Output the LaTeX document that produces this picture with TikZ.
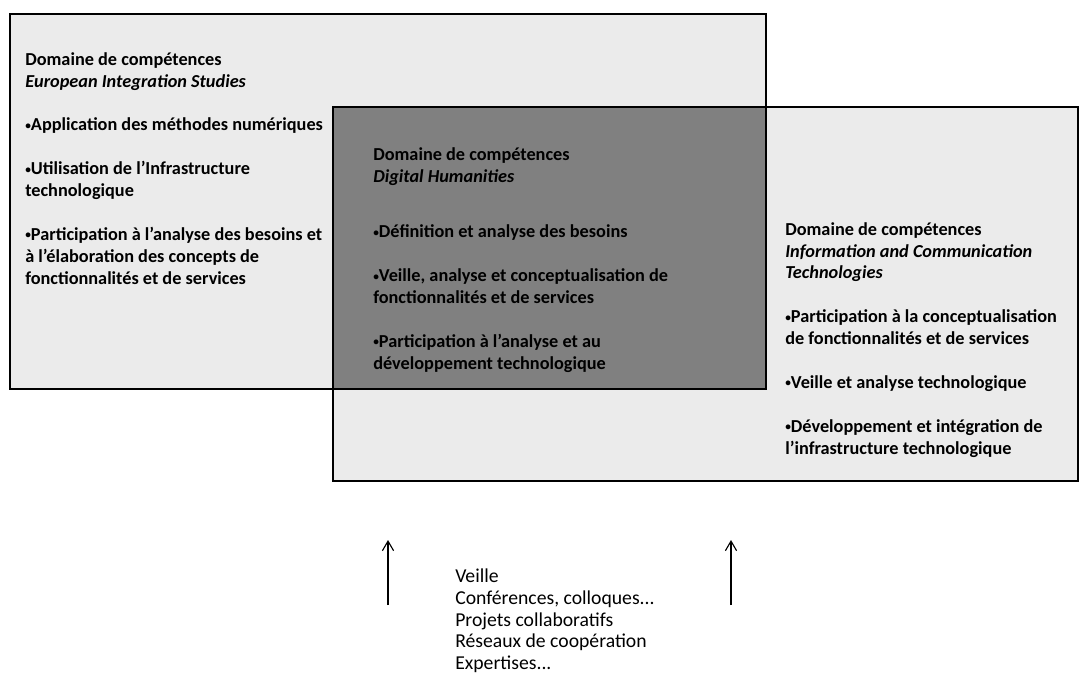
\documentclass[tikz,border=0pt]{standalone}
\usepackage{fontspec}
\setmainfont{Carlito}
\usetikzlibrary{arrows.meta}

\newcommand{\puce}{\raisebox{0.1em}{\scalebox{0.62}{•}}}

\begin{document}
\begin{tikzpicture}[x=0.25mm, y=-0.25mm,
    domainbox/.style={anchor=north west, inner sep=0pt, align=left,
        font=\bfseries\fontsize{13}{15.6}\selectfont},
    moyenbox/.style={anchor=north west, inner sep=0pt, align=left,
        font=\fontsize{14}{15.4}\selectfont},
    framebox/.style={line width=1.4pt}]

\useasboundingbox (0,0) rectangle (1080,679);

% the two domains and their overlap
\fill[black!8] (10,14) rectangle (766,389);
\fill[black!8] (333,107) rectangle (1078,481);
\fill[black!50] (333,107) rectangle (766,389);
\draw[framebox] (10,14) rectangle (766,389);
\draw[framebox] (333,107) rectangle (1078,481);

\node[domainbox] (eis) at (25,52) {Domaine de compétences\\
    \textit{European Integration Studies}\\[5.5mm]
    \puce Application des méthodes numériques\\[5.5mm]
    \puce Utilisation de l’Infrastructure\\ technologique\\[5.5mm]
    \puce Participation à l’analyse  des besoins et\\
    à l’élaboration des concepts de\\
    fonctionnalités et de services};

\node[domainbox] (dh) at (373,147) {Domaine de compétences\\
    \textit{Digital Humanities}\\[8.5mm]
    \puce Définition et analyse des besoins\\[5.5mm]
    \puce Veille, analyse et conceptualisation de\\
    fonctionnalités et de services\\[5.5mm]
    \puce Participation à l’analyse et au\\
    développement technologique};

\node[domainbox] (ict) at (785,222) {Domaine de compétences\\
    \textit{Information and Communication}\\
    \textit{Technologies}\\[5.5mm]
    \puce Participation à la conceptualisation\\
    de fonctionnalités et de services\\[5.5mm]
    \puce Veille et analyse technologique\\[5.5mm]
    \puce Développement et intégration de\\
    l’infrastructure technologique};

% sources, feeding the domains
\node[moyenbox] (src) at (455,569) {Veille\\
    Conférences, colloques...\\
    Projets collaboratifs\\
    Réseaux de coopération\\
    Expertises...};

\coordinate (la0) at (388,605);
\coordinate (la1) at (388,540);
\coordinate (ra0) at (731,605);
\coordinate (ra1) at (731,540);
\draw[thick, -{Straight Barb[length=2.4mm, width=2.8mm]}] (la0) -- (la1);
\draw[thick, -{Straight Barb[length=2.4mm, width=2.8mm]}] (ra0) -- (ra1);

\end{tikzpicture}
\end{document}
